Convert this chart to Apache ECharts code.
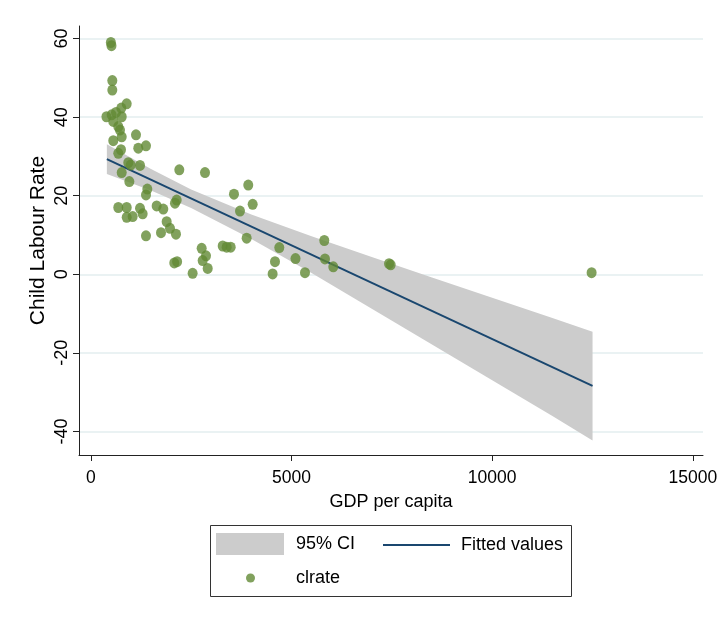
<!DOCTYPE html>
<html><head><meta charset="utf-8">
<script src="https://cdn.jsdelivr.net/npm/echarts@6/dist/echarts.min.js"></script>
<style>html,body{margin:0;padding:0;background:#fff}#c{width:722px;height:624px}</style>
</head><body><div id="c"></div>
<script>
// scatter data: GDP per capita vs child labour rate
const gdp = [500,515,536,536,894,760,390,520,628,770,560,685,727,770,1126,560,1183,1375,685,752,
  934,994,1226,770,960,2205,2845,1408,1375,2140,2097,685,894,894,1043,1226,1292,1641,1806,1890,
  1973,2122,1749,1375,2080,2150,2537,3567,3923,4033,3717,3883,3286,3385,3485,2762,2870,2787,2912,4696,
  4589,4530,5100,5817,5834,6041,5336,7471,7430,12477];
const clrate = [59.0,58.2,49.3,46.9,43.4,42.3,40.1,40.6,41.2,40.1,38.9,37.6,36.7,35.0,35.5,34.0,32.1,32.7,30.8,31.7,
  28.4,27.8,27.7,25.9,23.6,26.6,25.9,21.7,20.2,18.9,18.1,17.0,17.0,14.5,14.7,16.8,15.4,17.4,16.6,13.4,
  11.7,10.2,10.6,9.8,2.9,3.2,0.25,20.4,22.7,17.8,16.1,9.2,7.2,6.9,6.9,6.6,4.7,3.5,1.5,6.8,
  3.2,0.1,4.0,8.6,3.9,1.9,0.4,2.4,2.7,0.4];
// fitted line end points
const fitX = [400, 12500];
const fitY = [29.3, -28.4];
// 95% confidence band
const ciX = [400,1500,2500,4000,5500,7000,8500,10000,11500,12500];
const ciLower = [25.5,21.3,16.9,9.0,0.3,-8.8,-17.9,-27.0,-36.1,-42.3];
const ciUpper = [33.1,26.8,21.6,15.2,9.7,4.4,-0.8,-6.0,-11.1,-14.6];
// ticks
const xTicks = [0,5000,10000,15000];
const yTicks = [-40,-20,0,20,40,60];

const FONT = '"Liberation Sans", Arial, Helvetica, sans-serif';
const DOT = 'path://M50,0A50,50 0 1,1 50,100A50,50 0 1,1 50,0Z';
const chart = echarts.init(document.getElementById('c'), null, {renderer:'canvas'});
const txt = {fontFamily: FONT, color:'#000'};
const plain = v => String(v);
chart.setOption({
  animation:false,
  backgroundColor:'#ffffff',
  grid:{left:79, right:19, top:26, bottom:169, containLabel:false},
  xAxis:{
    type:'value', min:-294, max:15252,
    axisLine:{show:true, onZero:false, lineStyle:{color:'#222', width:1}},
    axisTick:{show:true, length:6, customValues:xTicks, lineStyle:{color:'#222'}},
    axisLabel:Object.assign({customValues:xTicks, margin:14, fontSize:17.5, formatter:plain}, txt),
    splitLine:{show:false},
    name:'GDP per capita', nameLocation:'middle', nameGap:38,
    nameTextStyle:Object.assign({fontSize:18}, txt)
  },
  yAxis:{
    type:'value', min:-46, max:63.2,
    axisLine:{show:true, onZero:false, lineStyle:{color:'#222', width:1}},
    axisTick:{show:true, length:6, customValues:yTicks, lineStyle:{color:'#222'}},
    axisLabel:Object.assign({customValues:yTicks, rotate:90, margin:8, fontSize:18, formatter:plain}, txt),
    splitLine:{show:true, lineStyle:{color:'#eaf2f3', width:2}},
    name:'Child Labour Rate', nameLocation:'middle', nameGap:30, nameMoveOverlap:false,
    nameTextStyle:Object.assign({fontSize:21}, txt)
  },
  legend:[
    {left:216, top:533, padding:0, itemWidth:68, itemHeight:22, selectedMode:false,
      textStyle:Object.assign({fontSize:18, padding:[0,0,0,7]}, txt),
      data:[{name:'95% CI', icon:'rect', itemStyle:{color:'#cccccc', borderWidth:0}}]},
    {left:383, top:536, padding:0, itemWidth:67, itemHeight:2, selectedMode:false,
      textStyle:Object.assign({fontSize:18, padding:[0,0,0,6]}, txt),
      data:[{name:'Fitted values', icon:'rect', itemStyle:{color:'#1a476f', borderWidth:0}}]},
    {left:246, top:569, padding:0, itemWidth:9, itemHeight:10, selectedMode:false,
      textStyle:Object.assign({fontSize:18, padding:[0,0,0,36]}, txt),
      data:[{name:'clrate', icon:'circle', itemStyle:{color:'#628a34', borderWidth:0}}]}
  ],
  graphic:[{type:'rect', silent:true, shape:{x:210.5, y:525.5, width:361, height:71},
    style:{fill:'none', stroke:'#333', lineWidth:1}}],
  series:[
    {type:'custom', name:'95% CI', coordinateSystem:'cartesian2d',
      data:ciX.map((x,i)=>[x, ciLower[i], ciUpper[i]]), encode:{x:0, y:[1,2]},
      itemStyle:{color:'#cccccc'}, silent:true, z:1,
      renderItem:function(params, api){
        if (params.dataIndex !== 0) return null;
        const pts = [];
        for (let i = 0; i < ciX.length; i++) pts.push(api.coord([ciX[i], ciUpper[i]]));
        for (let i = ciX.length - 1; i >= 0; i--) pts.push(api.coord([ciX[i], ciLower[i]]));
        return {type:'polygon', shape:{points:pts}, style:{fill:'#cccccc', stroke:null}};
      }},
    {type:'line', name:'Fitted values', data:fitX.map((x,i)=>[x, fitY[i]]), symbol:'none',
      lineStyle:{color:'#1a476f', width:2}, itemStyle:{color:'#1a476f'}, z:2},
    {type:'scatter', name:'clrate', data:gdp.map((x,i)=>[x, clrate[i]]), symbol:DOT, symbolSize:[10,11],
      itemStyle:{color:'#628a34'}, z:3}
  ]
});
</script></body></html>
